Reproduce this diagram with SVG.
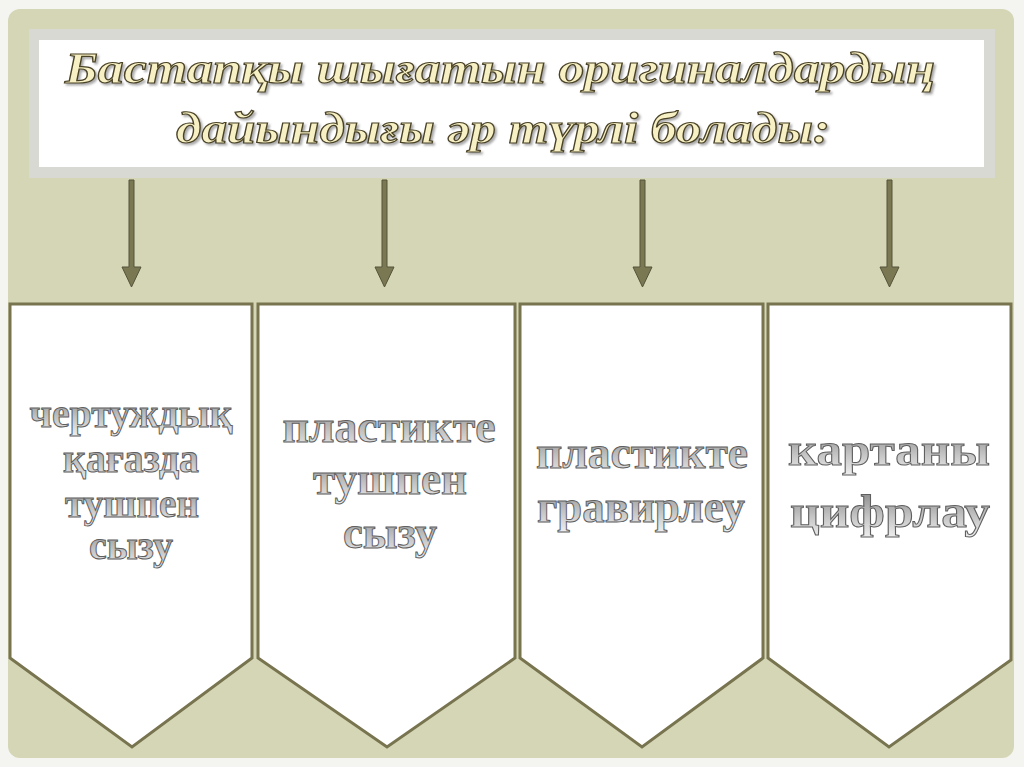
<svg xmlns="http://www.w3.org/2000/svg" width="1024" height="767" viewBox="0 0 1024 767">
<defs>
<style>
.panel{fill:#ffffff;stroke:#77744f;stroke-width:3;stroke-linejoin:miter}
.ptxt{font-family:"Liberation Serif","DejaVu Serif",serif;font-weight:bold;font-size:46px;text-anchor:middle;fill:url(#gtxt);stroke:#5f5f5f;stroke-width:1}
.small{font-size:40px}
.title{font-family:"Liberation Serif","DejaVu Serif",serif;font-weight:bold;font-style:italic;font-size:44px;text-anchor:middle;fill:#f6f0c4;stroke:#4a4226;stroke-width:1.2;filter:url(#shadow)}
.arrow{fill:#7a7852;stroke:#55533a;stroke-width:1}
</style>
<linearGradient id="gtxt" x1="0" y1="0" x2="0" y2="1">
<stop offset="0" stop-color="#7f7f7f"/>
<stop offset="0.6" stop-color="#c4c4c4"/>
<stop offset="1" stop-color="#eeeeee"/>
</linearGradient>
<filter id="shadow" x="-5%" y="-20%" width="110%" height="140%">
<feDropShadow dx="2" dy="2" stdDeviation="1" flood-color="#555" flood-opacity="0.5"/>
</filter>
</defs>
<rect x="0" y="0" width="1024" height="767" fill="#f4f4f1"/>
<rect x="8" y="9" width="1006" height="749" rx="12" fill="#d4d6b5"/>
<g id="title">
<rect x="29" y="29" width="966" height="149" fill="#d9d9d3"/>
<rect x="39" y="40" width="945" height="127" fill="#ffffff"/>
<text class="title" x="500" y="83" textLength="870" lengthAdjust="spacingAndGlyphs">Бастапқы шығатын оригиналдардың</text>
<text class="title" x="503" y="143" textLength="654" lengthAdjust="spacingAndGlyphs">дайындығы әр түрлі болады:</text>
</g>
<g id="connectors">
<path class="arrow" d="M129 180 L134 180 L134 267 L141 267 L131.5 287 L122 267 L129 267 Z"/>
<path class="arrow" d="M382 180 L387 180 L387 267 L394 267 L384.5 287 L375 267 L382 267 Z"/>
<path class="arrow" d="M640 180 L645 180 L645 267 L652 267 L642.5 287 L633 267 L640 267 Z"/>
<path class="arrow" d="M887 180 L892 180 L892 267 L899 267 L889.5 287 L880 267 L887 267 Z"/>
</g>
<g id="node1">
<path class="panel" d="M10 304 L252 304 L252 658 L132 747 L10 658 Z"/>
<text class="ptxt small" x="131" y="427" textLength="203" lengthAdjust="spacingAndGlyphs">чертуждық</text>
<text class="ptxt small" x="131" y="472" textLength="136" lengthAdjust="spacingAndGlyphs">қағазда</text>
<text class="ptxt small" x="132" y="517" textLength="134" lengthAdjust="spacingAndGlyphs">тушпен</text>
<text class="ptxt small" x="131" y="559" textLength="84" lengthAdjust="spacingAndGlyphs">сызу</text>
</g>
<g id="node2">
<path class="panel" d="M258 304 L515 304 L515 658 L387 747 L258 658 Z"/>
<text class="ptxt" x="389" y="442" textLength="213" lengthAdjust="spacingAndGlyphs">пластикте</text>
<text class="ptxt" x="390" y="494" textLength="154" lengthAdjust="spacingAndGlyphs">тушпен</text>
<text class="ptxt" x="390" y="548" textLength="94" lengthAdjust="spacingAndGlyphs">сызу</text>
</g>
<g id="node3">
<path class="panel" d="M520 304 L763 304 L763 658 L642 747 L520 658 Z"/>
<text class="ptxt" x="642" y="468" textLength="212" lengthAdjust="spacingAndGlyphs">пластикте</text>
<text class="ptxt" x="641" y="522" textLength="208" lengthAdjust="spacingAndGlyphs">гравирлеу</text>
</g>
<g id="node4">
<path class="panel" d="M768 304 L1011 304 L1011 660 L889 747 L768 658 Z"/>
<text class="ptxt" x="889" y="465" textLength="202" lengthAdjust="spacingAndGlyphs">картаны</text>
<text class="ptxt" x="890" y="527" textLength="200" lengthAdjust="spacingAndGlyphs">цифрлау</text>
</g>
</svg>
